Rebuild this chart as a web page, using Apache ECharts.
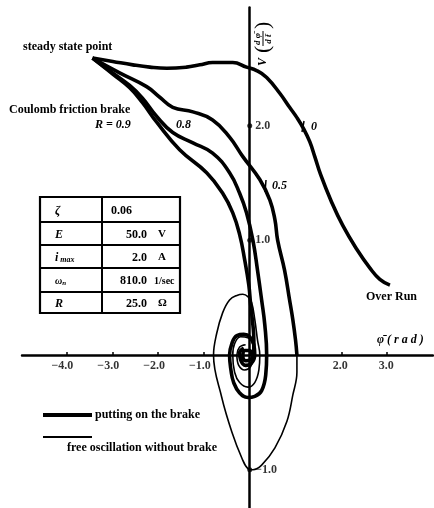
<!DOCTYPE html>
<html><head><meta charset="utf-8">
<script src="https://cdn.jsdelivr.net/npm/echarts@6/dist/echarts.min.js"></script>
<style>html,body{margin:0;padding:0;background:#fff}#c{width:434px;height:508px}</style>
</head><body><div id="c"></div>
<script>
// ---- data (phi_bar in rad, V = dphi/dt) ----
const xTickValues = [-4, -3, -2, -1, 2, 3];
const xNegLabels = [-4, -3, -2, -1];
const xPosLabels = [2, 3];
const yTickValues = [2, 1, -1];
const curveR0 = [[-3.43,2.59],[-2.99,2.56],[-2.55,2.53],[-2.18,2.51],[-1.81,2.50],[-1.38,2.51],[-1.09,2.53],[-0.81,2.55],[-0.37,2.55],[-0.07,2.51],[0.15,2.48],[0.37,2.42],[0.66,2.28],[0.87,2.16],[1.03,2.07],[1.18,1.97],[1.31,1.86],[1.42,1.73],[1.55,1.57],[1.77,1.35],[2.03,1.13],[2.34,0.92],[2.62,0.76],[2.84,0.66],[3.06,0.61]];
const curveR05 = [[-3.43,2.59],[-2.84,2.46],[-2.25,2.34],[-1.97,2.25],[-1.68,2.16],[-1.24,2.12],[-0.81,2.05],[-0.44,1.90],[-0.15,1.73],[0.22,1.53],[0.44,1.35],[0.55,1.18],[0.61,1.00],[0.76,0.74],[0.87,0.48],[0.94,0.31],[1.00,0.13],[1.03,0.00]];
const curveR08 = [[-3.43,2.59],[-2.99,2.46],[-2.62,2.35],[-2.34,2.24],[-2.03,2.08],[-1.68,1.94],[-1.24,1.85],[-0.81,1.76],[-0.44,1.59],[-0.22,1.41],[-0.07,1.24],[0.07,1.00],[0.17,0.74],[0.26,0.48],[0.33,0.26],[0.37,0.00],[0.35,-0.17],[0.26,-0.31],[0.11,-0.36],[-0.04,-0.37],[-0.22,-0.33],[-0.35,-0.24],[-0.41,-0.13],[-0.44,0.00],[-0.39,0.10],[-0.28,0.17],[-0.13,0.18],[0.00,0.16],[0.09,0.09],[0.11,0.00],[0.04,-0.07],[-0.09,-0.09],[-0.20,-0.04],[-0.22,0.02],[-0.13,0.06]];
const curveR09 = [[-3.43,2.59],[-2.99,2.45],[-2.62,2.33],[-2.34,2.20],[-2.03,2.03],[-1.53,1.79],[-0.94,1.59],[-0.59,1.41],[-0.37,1.24],[-0.22,1.05],[-0.11,0.83],[-0.02,0.61],[0.02,0.44],[0.07,0.26],[0.09,0.13],[0.09,0.03],[0.02,-0.04],[-0.09,-0.05],[-0.15,-0.01],[-0.11,0.04],[0.00,0.04],[0.04,0.00]];
const freeOsc = [[1.03,0.00],[1.03,-0.15],[0.94,-0.35],[0.81,-0.58],[0.55,-0.81],[0.26,-0.96],[0.07,-1.00],[-0.04,-0.99],[-0.17,-0.90],[-0.39,-0.67],[-0.61,-0.37],[-0.79,0.00],[-0.72,0.19],[-0.59,0.37],[-0.44,0.48],[-0.28,0.52],[-0.15,0.53],[-0.04,0.51],[0.04,0.46],[0.11,0.31],[0.17,0.13],[0.22,0.00],[0.20,-0.13],[0.11,-0.24],[-0.04,-0.28],[-0.22,-0.24],[-0.33,-0.15],[-0.37,0.00],[-0.33,0.10],[-0.20,0.16],[-0.04,0.15],[0.07,0.09],[0.09,0.00],[0.02,-0.10],[-0.11,-0.13],[-0.24,-0.09],[-0.28,0.00],[-0.22,0.07],[-0.09,0.09]];
const tableRows = [
  ['ζ', '0.06', ''],
  ['E', '50.0', 'V'],
  ['i max', '2.0', 'A'],
  ['ωn', '810.0', '1/sec'],
  ['R', '25.0', 'Ω']
];

const SERIF = '"Liberation Serif", "DejaVu Serif", serif';
const fmt = v => (v < 0 ? '−' : '') + Math.abs(v).toFixed(1);

const chart = echarts.init(document.getElementById('c'), null, {renderer: 'canvas'});

function heavy(name, data) {
  return {name, type: 'line', data, showSymbol: false, smooth: 0.45, z: 3,
    lineStyle: {color: '#000', width: 3.6}, silent: true};
}

// table graphics
const tableG = [];
const tx = 40, ty = 197, tw = 140, rowsY = [197, 222, 245, 268, 292, 313];
tableG.push({type: 'rect', shape: {x: tx, y: ty, width: tw, height: 116}, style: {fill: 'none', stroke: '#000', lineWidth: 2.2}});
tableG.push({type: 'line', shape: {x1: 102, y1: ty, x2: 102, y2: ty + 116}, style: {stroke: '#000', lineWidth: 2}});
for (let i = 1; i < 5; i++) tableG.push({type: 'line', shape: {x1: tx, y1: rowsY[i], x2: tx + tw, y2: rowsY[i]}, style: {stroke: '#000', lineWidth: 2}});
tableRows.forEach((r, i) => {
  const cy = (rowsY[i] + rowsY[i + 1]) / 2 + 1;
  let sym;
  if (r[0] === 'i max') sym = {text: '{a|i}{b| max}', rich: {a: {font: 'italic bold 12px ' + SERIF}, b: {font: 'italic bold 8px ' + SERIF, padding: [4, 0, 0, 0]}}};
  else if (r[0] === 'ωn') sym = {text: '{a|ω}{b|n}', rich: {a: {font: 'italic bold 10px ' + SERIF}, b: {font: 'italic bold 7px ' + SERIF, padding: [4, 0, 0, 0]}}};
  else sym = {text: r[0], font: 'italic bold 12px ' + SERIF};
  tableG.push({type: 'text', x: 55, y: cy, style: Object.assign({verticalAlign: 'middle', fill: '#000'}, sym)});
  if (i === 0) tableG.push({type: 'text', x: 111, y: cy, style: {text: r[1], font: 'bold 12px ' + SERIF, verticalAlign: 'middle', fill: '#000'}});
  else tableG.push({type: 'text', x: 147, y: cy, style: {text: r[1], font: 'bold 12px ' + SERIF, align: 'right', verticalAlign: 'middle', fill: '#000'}});
  if (r[2]) tableG.push({type: 'text', x: r[2].length > 1 ? 154 : 158, y: cy, style: {text: r[2], font: 'bold ' + (r[2].length > 1 ? 10 : 11) + 'px ' + SERIF, verticalAlign: 'middle', fill: '#000'}});
});

const txt = (x, y, text, font, extra) => ({type: 'text', x, y, z: 10, style: Object.assign({text, font: font + ' ' + SERIF, fill: '#000', verticalAlign: 'middle'}, extra || {})});

const graphics = [
  txt(23, 47, 'steady state point', 'bold 12px'),
  txt(9, 110, 'Coulomb friction brake', 'bold 12px'),
  txt(95, 125, 'R = 0.9', 'italic bold 12px'),
  txt(176, 125, '0.8', 'italic bold 12px'),
  txt(311, 127, '0', 'italic bold 12px'),
  txt(272, 186, '0.5', 'italic bold 12px'),
  txt(366, 297, 'Over Run', 'bold 12px'),
  txt(377, 340, 'φ̄ ( r a d )', 'italic bold 12px'),
  // small marks on curves
  {type: 'line', shape: {x1: 304, y1: 121, x2: 302, y2: 132}, style: {stroke: '#000', lineWidth: 1.5}},
  {type: 'line', shape: {x1: 266, y1: 180, x2: 265, y2: 192}, style: {stroke: '#000', lineWidth: 1.5}},
  // legend
  {type: 'line', shape: {x1: 43, y1: 415, x2: 92, y2: 415}, style: {stroke: '#000', lineWidth: 4}},
  txt(95, 415, 'putting on the brake', 'bold 12px'),
  {type: 'line', shape: {x1: 43, y1: 437, x2: 92, y2: 437}, style: {stroke: '#000', lineWidth: 2}},
  txt(67, 448, 'free oscillation without brake', 'bold 12px'),
  // y-axis title, rotated
  {type: 'group', x: 263, y: 66, rotation: Math.PI / 2, children: [
    {type: 'text', x: 0, y: 0, style: {text: 'V', font: 'italic bold 12px ' + SERIF, verticalAlign: 'middle', fill: '#000'}},
    {type: 'text', x: 13, y: 0, style: {text: '(', font: '22px ' + SERIF, verticalAlign: 'middle', fill: '#000'}},
    {type: 'text', x: 27, y: -5, style: {text: 'd φ̄', font: 'italic bold 9px ' + SERIF, align: 'center', verticalAlign: 'middle', fill: '#000'}},
    {type: 'line', shape: {x1: 20, y1: 0, x2: 35, y2: 0}, style: {stroke: '#000', lineWidth: 1}},
    {type: 'text', x: 27, y: 6, style: {text: 'd t̄', font: 'italic bold 9px ' + SERIF, align: 'center', verticalAlign: 'middle', fill: '#000'}},
    {type: 'text', x: 37, y: 0, style: {text: ')', font: '22px ' + SERIF, verticalAlign: 'middle', fill: '#000'}}
  ]}
].concat(tableG);

const labelStyle = {color: '#000', fontFamily: SERIF, fontWeight: 'bold', fontSize: 12};

chart.setOption({
  animation: false,
  backgroundColor: '#fff',
  grid: {left: 22, top: 7.5, width: 411, height: 502.4, containLabel: false, outerBoundsMode: 'none'},
  xAxis: {
    type: 'value', min: -4.97, max: 4.0,
    axisLine: {onZero: true, lineStyle: {color: '#000', width: 2.5}},
    splitLine: {show: false},
    axisTick: {show: true, inside: true, length: 3, customValues: xTickValues, lineStyle: {color: '#000', width: 1.5}},
    axisLabel: {show: false}
  },
  yAxis: {
    type: 'value', min: -1.35, max: 3.03,
    axisLine: {onZero: true, lineStyle: {color: '#000', width: 2.5}},
    splitLine: {show: false},
    axisTick: {show: false},
    axisLabel: {show: false}
  },
  series: [
    {name: 'free oscillation without brake', type: 'line', data: freeOsc, showSymbol: false, smooth: 0.4, z: 2,
      lineStyle: {color: '#000', width: 1.6}, silent: true},
    heavy('R=0', curveR0),
    heavy('R=0.5', curveR05),
    heavy('R=0.8', curveR08),
    heavy('R=0.9', curveR09),
    // y-axis tick dots + labels
    {type: 'scatter', data: yTickValues.map(v => [0, v]), symbolSize: 5, itemStyle: {color: '#000'}, z: 4, silent: true,
      label: Object.assign({show: true, position: 'right', distance: 3, formatter: p => fmt(p.value[1])}, labelStyle)},
    // x-axis tick labels
    {type: 'scatter', data: xNegLabels.map(v => [v, 0]), symbolSize: 0, z: 4, silent: true,
      label: Object.assign({show: true, position: 'bottom', distance: 5, offset: [-4, 0], formatter: p => fmt(p.value[0])}, labelStyle)},
    {type: 'scatter', data: xPosLabels.map(v => [v, 0]), symbolSize: 0, z: 4, silent: true,
      label: Object.assign({show: true, position: 'bottom', distance: 5, offset: [-1, 0], formatter: p => fmt(p.value[0])}, labelStyle)}
  ],
  graphic: graphics
});
</script>
</body></html>
